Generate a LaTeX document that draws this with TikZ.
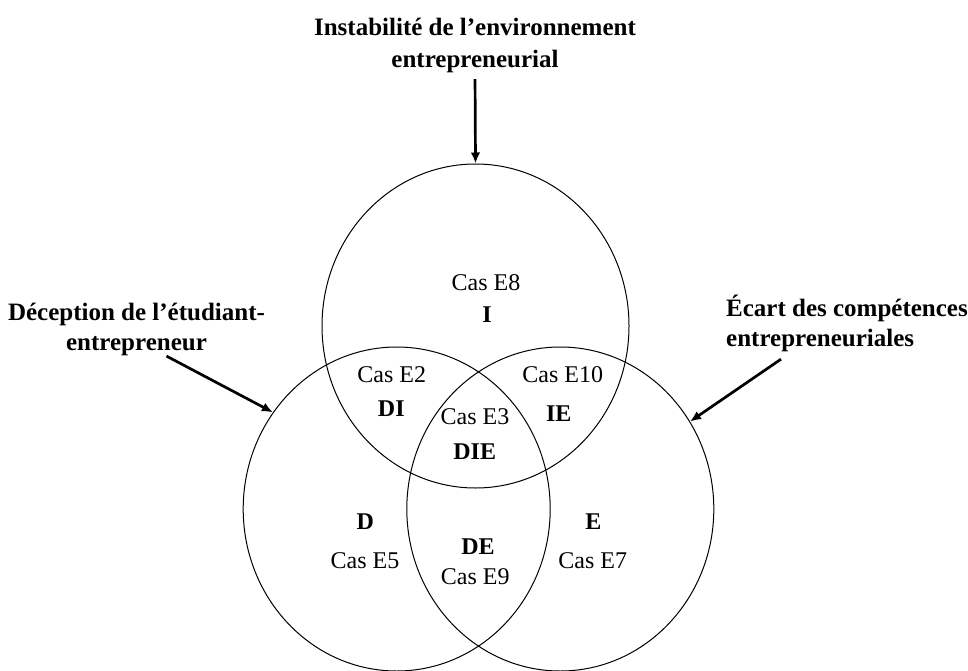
\documentclass[tikz,border=0pt]{standalone}
\usepackage{fontspec}
\setmainfont{Liberation Serif}
\usetikzlibrary{arrows.meta,positioning,shapes.geometric}

\begin{document}
\begin{tikzpicture}[
  x=1pt, y=-1pt,
  venn/.style={draw, ellipse, line width=1pt, minimum width=307pt, minimum height=324pt, inner sep=0pt},
  lab/.style={inner sep=0pt, font=\bfseries\fontsize{25}{30}\selectfont},
  cas/.style={inner sep=0pt, font=\fontsize{24}{28}\selectfont},
  zone/.style={inner sep=0pt, font=\bfseries\fontsize{24}{28}\selectfont},
  arr/.style={-{Latex[length=11pt,width=9.5pt]}, line width=2.7pt}
]
\useasboundingbox (0,0) rectangle (968,671);

% the three sets
\node[venn] (I) at (475.5,326) {};
\node[venn] (D) at (396.7,509) {};
\node[venn] (E) at (560.3,509) {};

% outer labels
\node[lab, font=\bfseries\fontsize{25}{32}\selectfont, align=center, anchor=north] (ilab) at (475,18)
  {Instabilité de l’environnement\\ entrepreneurial};
\node[lab, align=center, anchor=north] (dlab) at (136.5,303)
  {Déception de l’étudiant-\\ entrepreneur};
\node[lab, align=left, anchor=north west] (elab) at (726,295)
  {Écart des compétences\\ entrepreneuriales};

% regions
\node[cas]  (e8)  at (486,283) {Cas E8};
\node[zone] (zi)  at (487,315) {I};
\node[cas]  (e2)  at (391.7,375) {Cas E2};
\node[zone] (zdi) at (391.3,409) {DI};
\node[cas]  (e10) at (562.7,375) {Cas E10};
\node[zone] (zie) at (558.7,414) {IE};
\node[cas]  (e3)  at (475,417) {Cas E3};
\node[zone] (zdie) at (474.7,452) {DIE};
\node[zone] (zd)  at (365.3,522) {D};
\node[cas]  (e5)  at (365,561) {Cas E5};
\node[zone] (zde) at (478,547) {DE};
\node[cas]  (e9)  at (475.3,577) {Cas E9};
\node[zone] (ze)  at (593.3,522) {E};
\node[cas]  (e7)  at (592.7,561) {Cas E7};

\draw[arr, shorten <=6pt] (ilab.south) -- (I.north);
\draw[arr] ([xshift=30pt]dlab.south) -- (D.142);
\draw[arr] ([xshift=55pt,yshift=-7pt]elab.south west) -- (E.34);
\end{tikzpicture}
\end{document}
